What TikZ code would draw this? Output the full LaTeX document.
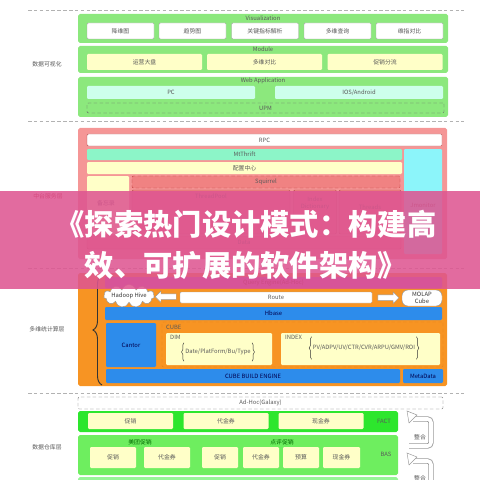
\documentclass[tikz,border=0pt]{standalone}
\usepackage{fontspec}
\setmainfont{Noto Sans CJK SC}
\usetikzlibrary{arrows.meta, positioning, shapes, calc, decorations.pathreplacing}

\definecolor{visgreen}{RGB}{140,232,125}
\definecolor{lyellow}{RGB}{255,255,200}
\definecolor{lcyan}{RGB}{205,255,235}
\definecolor{salmon}{RGB}{245,150,150}
\definecolor{mint}{RGB}{140,245,200}
\definecolor{aqua}{RGB}{140,245,250}
\definecolor{squ}{RGB}{240,130,130}
\definecolor{orng}{RGB}{247,148,35}
\definecolor{purp}{RGB}{170,80,200}
\definecolor{bblue}{RGB}{45,140,235}
\definecolor{factg}{RGB}{45,230,45}
\definecolor{basg}{RGB}{110,238,95}
\definecolor{nextg}{RGB}{150,245,150}
\definecolor{bannerpink}{RGB}{222,85,145}

\begin{document}
\begin{tikzpicture}[
    x=0.03cm, y=-0.03cm,
    font=\fontsize{5}{6}\selectfont,
    sz/.style 2 args={minimum width=#1*0.03cm, minimum height=#2*0.03cm},
    layer/.style={rectangle, rounded corners=1.5pt, inner sep=0pt},
    box/.style={rectangle, rounded corners=1pt, inner sep=0pt, text=black!65},
    wbox/.style={box, draw=gray!70, fill=white},
    ybox/.style={box, fill=lyellow},
    bbar/.style={box, fill=bblue, text=blue!30!black},
    lbl/.style={text=black!65, inner sep=0pt},
    side/.style={text=black!65, inner sep=0pt},
    sep/.style={gray!60, densely dashed, line width=0.4pt},
    fatarrow/.style={single arrow, draw=gray!80, fill=white, inner sep=2.2pt,
        single arrow head extend=2.5pt, minimum height=21*0.03cm},
    curly/.style={decorate, decoration={brace, amplitude=#1}, thick, black!80}
    ]
    \useasboundingbox (0,0) rectangle (480,480);

    % Separators
    \draw[sep] (28,10) -- (464,10);
    \draw[sep] (28,121) -- (464,121);
    \draw[sep] (28,268) -- (464,268);
    \draw[sep] (28,393) -- (464,393);

    % Layer names
    \node[side] (nvis) at (47,64) {数据可视化};
    \node[side, text=red!60!black] (nmid) at (48,196) {中台服务层};
    \node[side] (nolap) at (47,329) {多维统计算层};
    \node[side] (nwh) at (47,447) {数据仓库层};

    % Visualization
    \node[layer, fill=visgreen, sz={370}{29}] (vis) at (263,28.5) {};
    \node[lbl] at (263,18) {Visualization};
    \node[wbox, sz={67}{16}] (v1) at (120.5,31) {降维图};
    \node[wbox, sz={67}{16}] (v2) at (192.5,31) {趋势图};
    \node[wbox, sz={67}{16}] (v3) at (265,31) {关键指标解析};
    \node[wbox, sz={67}{16}] (v4) at (337.5,31) {多维查询};
    \node[wbox, sz={67}{16}] (v5) at (409.5,31) {维指对比};

    % Module
    \node[layer, fill=visgreen, sz={370}{27}] (mod) at (263,59.5) {};
    \node[lbl] at (263,49.5) {Module};
    \node[ybox, sz={115}{16}] (m1) at (144.5,62) {运营大盘};
    \node[ybox, sz={115}{16}] (m2) at (264.5,62) {多维对比};
    \node[ybox, sz={115}{16}] (m3) at (385,62) {促销分流};

    % Web Application
    \node[layer, fill=visgreen, sz={370}{40}] (web) at (263,97) {};
    \node[lbl] at (263,81) {Web Application};
    \node[box, fill=lcyan, sz={168}{13}] (pc) at (171,92.5) {PC};
    \node[box, fill=lcyan, sz={168}{13}] (ios) at (359,92.5) {IOS/Android};
    \node[box, draw=black!60, densely dashed, sz={357}{10}] (upm) at (265.5,108) {UPM};

    % Service layer
    \node[layer, fill=salmon, sz={369}{131}] (mid) at (262.5,193.5) {};
    \node[wbox, draw=gray!60!red, sz={355}{12}] (rpc) at (264.5,140) {RPC};
    \node[box, fill=mint, sz={315}{11}] (thrift) at (244.5,154.5) {MtThrift};
    \node[ybox, sz={315}{12}] (conf) at (244.5,168) {配置中心};
    \node[box, fill=aqua, sz={38}{105}] (jmon) at (423,201.5) {};
    \node[lbl] at (423,205) {Jmonitor};
    \node[box, fill=squ, draw=red!50!gray, densely dashed, sz={268}{12}] (squirrel) at (266,182) {Squirrel};
    \node[ybox, sz={42}{58}] (memo) at (108,205) {};
    \node[lbl] at (106,203) {备忘录};
    \node[box, fill=squ, draw=red!40!gray, sz={158}{44}] (pool) at (211,212) {};
    \node[lbl] at (211,196) {ThreadPool};
    \node[box, fill=squ, draw=red!40!gray, sz={43}{44}] (dict) at (315,212) {};
    \node[lbl, align=center] at (315,203) {Index\\Dictionary};
    \node[box, fill=squ, draw=red!40!gray, sz={62}{44}] (threads) at (370,212) {};
    \node[lbl] at (370,207) {Threads};
    \node[box, fill=squ, draw=red!40!gray, sz={314}{13}] (data) at (244,242.5) {Data};

    % OLAP layer
    \node[layer, fill=orng, sz={369}{113}] (olap) at (262.5,329.5) {};
    \node[box, fill=purp, text=purple!40!black, sz={337}{11}] (query) at (273.5,282.5) {Query Engine(Ad-Hoc)};
    \coordinate (braceb) at (102,385);
    \coordinate (bracet) at (102,275);
    \draw[curly=9*0.03cm] (braceb) -- (bracet);
    \node[cloud, cloud puffs=11, aspect=4, draw=gray!80, fill=white, inner sep=0pt,
        sz={49}{13}, text=black!80] (hive) at (129,296) {Hadoop Hive};
    \node[wbox, sz={192}{11}] (route) at (276,297.5) {Route};
    \node[box, draw=gray!80, fill=white, rounded corners=5pt, align=center,
        sz={40}{16}, text=black!80] (molap) at (422,298) {MOLAP\\Cube};
    \node[fatarrow, shape border rotate=180] (toleft) at ($(hive.east)!0.5!(route.west)$) {};
    \node[fatarrow] (toright) at ($(route.east)!0.5!(molap.west)$) {};
    \node[bbar, sz={337}{13}] (hbase) at (273.5,313.5) {Hbase};
    \node[bbar, sz={50}{44}] (cantor) at (131,345) {Cantor};
    \node[box, draw=orange!60!brown, densely dashed, sz={281}{45}] (cube) at (302.5,344.5) {};
    \node[lbl, anchor=west] at (166,327) {CUBE};
    \node[ybox, sz={106}{32}] (dim) at (219,349) {};
    \node[lbl, anchor=west] at (170,337) {DIM};
    \node[ybox, sz={159}{32}] (index) at (360.5,349) {};
    \node[lbl, anchor=west] at (285,337) {INDEX};
    \node[lbl, sz={0}{18}, inner xsep=1pt] (dimtxt) at (218,352) {Date/PlatForm/Bu/Type};
    \draw[curly=2pt, thin] (dimtxt.south west) -- (dimtxt.north west);
    \draw[curly=2pt, thin] (dimtxt.north east) -- (dimtxt.south east);
    \node[lbl, sz={0}{22}, inner xsep=1pt] (idxtxt) at (364,348) {PV/ADPV/UV/CTR/CVR/ARPU/GMV/ROI};
    \draw[curly=2pt, thin] (idxtxt.south west) -- (idxtxt.north west);
    \draw[curly=2pt, thin] (idxtxt.north east) -- (idxtxt.south east);
    \node[bbar, sz={294}{14}] (build) at (253,376) {CUBE BUILD ENGINE};
    \node[bbar, sz={40}{14}] (meta) at (423,376) {MetaData};

    % Warehouse layer
    \node[box, draw=black!60, densely dashed, sz={365}{12}] (adhoc) at (260.5,403) {Ad-Hoc(Galaxy)};
    \node[layer, fill=factg, sz={320}{21}] (fact) at (238,421.5) {};
    \node[ybox, sz={85}{16}] (f1) at (130.5,421) {促销};
    \node[ybox, sz={85}{16}] (f2) at (226,421) {代金券};
    \node[ybox, sz={85}{16}] (f3) at (321,421) {现金券};
    \node[lbl] at (384,421) {FACT};
    \node[layer, fill=basg, sz={320}{40}] (bas) at (238,455) {};
    \node[lbl, text=green!40!black] at (140,442) {美团促销};
    \node[lbl, text=green!40!black] at (282,442) {点评促销};
    \node[ybox, sz={46}{21}] (b1) at (113,457.5) {促销};
    \node[ybox, sz={46}{21}] (b2) at (167,457.5) {代金券};
    \node[ybox, sz={36}{21}] (b3) at (220,457.5) {促销};
    \node[ybox, sz={36}{21}] (b4) at (261,457.5) {代金券};
    \node[ybox, sz={36}{21}] (b5) at (301,457.5) {预算};
    \node[ybox, sz={37}{21}] (b6) at (341.5,457.5) {现金券};
    \node[lbl] at (386,454) {BAS};
    \node[layer, fill=nextg, sz={320}{10}] (base) at (238,482) {};

    % Integration arrows
    \coordinate (int1s) at (409,446);
    \coordinate (int1e) at (413,419);
    \draw[gray!80, line width=0.16cm, rounded corners=3pt] (int1s) -- (431,446) -- (431,419) -- (int1e);
    \draw[white, line width=0.11cm, rounded corners=3pt] (408,446) -- (431,446) -- (431,419) -- (int1e);
    \filldraw[fill=white, draw=gray!80] (407,411) -- (417,415) -- (409,423) -- cycle;
    \node[lbl] at (420,437) {整合};
    \coordinate (int2s) at (409,490);
    \coordinate (int2e) at (413,461);
    \draw[gray!80, line width=0.16cm, rounded corners=3pt] (int2s) -- (431,490) -- (431,461) -- (int2e);
    \draw[white, line width=0.11cm, rounded corners=3pt] (408,490) -- (431,490) -- (431,461) -- (int2e);
    \filldraw[fill=white, draw=gray!80] (407,453) -- (417,457) -- (409,465) -- cycle;
    \node[lbl] at (420,478) {整合};

    % Banner
    \fill[bannerpink, opacity=0.87] (0,191) rectangle (480,289);
    \node[text=white, align=center, font=\fontsize{25}{35.5}\selectfont\bfseries] (headline) at (246,245)
        {《探索热门设计模式：构建高\\效、可扩展的软件架构》};
\end{tikzpicture}
\end{document}
